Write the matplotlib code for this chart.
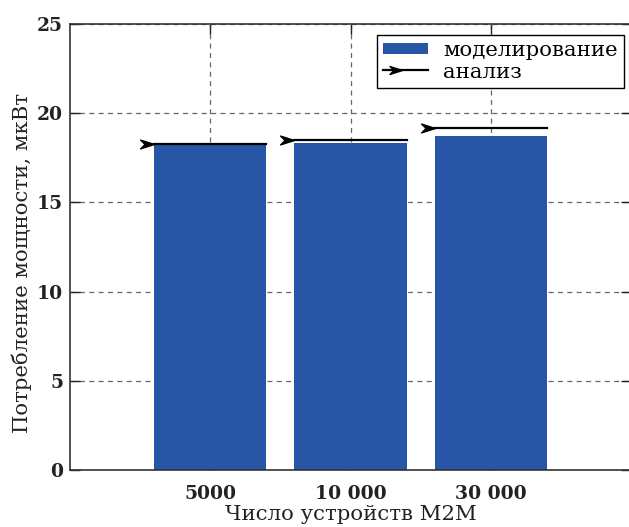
import matplotlib
matplotlib.use("Agg")
import matplotlib.pyplot as plt
from matplotlib.path import Path
from matplotlib.lines import Line2D
from matplotlib.patches import Patch
from matplotlib.legend_handler import HandlerBase
import numpy as np

categories = ["5000", "10 000", "30 000"]
simulation = [18.27, 18.35, 18.72]
analysis = [18.27, 18.5, 19.19]
yticks = [0, 5, 10, 15, 20, 25]

plt.rcParams['font.family'] = ['DejaVu Serif']

fig = plt.figure(figsize=(6.29, 5.27), dpi=100)
ax = fig.add_axes([70/629, 57/527, 561/629, 446/527])

x = np.arange(len(categories))
bar_color = '#2756a6'
ax.bar(x, simulation, width=0.8, color=bar_color, zorder=2)

dart = Path([(0, 0), (-2.2, 0.7), (-1.5, 0), (-2.2, -0.7), (0, 0)],
            [Path.MOVETO, Path.LINETO, Path.LINETO, Path.LINETO, Path.CLOSEPOLY])

for xi, v in zip(x, analysis):
    ax.plot([xi - 0.4, xi + 0.4], [v, v], color='black', lw=1.6,
            marker=dart, markersize=20, markevery=[0], zorder=3)

ax.set_xlim(-1, 3)
ax.set_ylim(0, 25)
ax.set_xticks(x)
ax.set_xticklabels(categories, fontweight='bold', fontsize=13.5)
ax.set_yticks(yticks)
ax.set_yticklabels([str(t) for t in yticks], fontweight='bold', fontsize=13.5)
ax.tick_params(direction='in', length=7.2, width=1.0, top=True, right=True,
               colors='#222222')
ax.tick_params(axis='y', pad=5)
ax.tick_params(axis='x', pad=10.5)
ax.grid(True, linestyle=(0, (4, 3.5)), color='#666666', lw=0.9, zorder=0)
ax.set_axisbelow(True)
for s in ax.spines.values():
    s.set_color('#333333')
    s.set_linewidth(1.2)

ax.set_xlabel("Число устройств M2M", fontsize=15.3, labelpad=2, color='#222222')
ax.set_ylabel("Потребление мощности, мкВт", fontsize=15.3, color='#222222')
ax.yaxis.set_label_coords(-0.068, 0.465)


class DartHandler(HandlerBase):
    def create_artists(self, legend, orig_handle, xdescent, ydescent,
                       width, height, fontsize, trans):
        y = height / 2 - ydescent
        x0 = -xdescent
        line = Line2D([x0, x0 + width], [y, y], color='black', lw=1.6,
                      transform=trans)
        mk = Line2D([x0 + 0.42 * width], [y], marker=dart, markersize=18,
                    color='black', linestyle='none', transform=trans)
        return [line, mk]


h1 = Patch(facecolor=bar_color, edgecolor='none')
h2 = Line2D([0, 1], [0, 0], color='black')
leg = ax.legend([h1, h2], ["моделирование", "анализ"], loc='upper left',
                bbox_to_anchor=((377 - 70) / 561, 1 - 11 / 446), fancybox=False,
                edgecolor='black', framealpha=1, fontsize=15.3,
                handler_map={h2: DartHandler()},
                handlelength=2.1, handleheight=0.4, borderaxespad=0,
                labelspacing=0.12, handletextpad=0.7, borderpad=0.3)
leg.get_frame().set_linewidth(1.0)

fig.savefig("out.png", dpi=100)
